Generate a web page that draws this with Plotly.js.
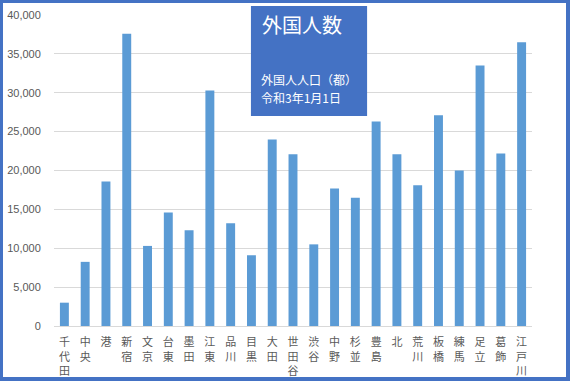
<!DOCTYPE html>
<html>
<head>
<meta charset="utf-8">
<script src="https://cdn.plot.ly/plotly-3.0.1.min.js"></script>
<style>
html,body{margin:0;padding:0;background:#fff;}
#wrap{position:relative;width:570px;height:381px;}
#chart{position:absolute;left:0;top:0;width:570px;height:381px;}
#frame{position:absolute;left:0;top:0;width:570px;height:381px;box-sizing:border-box;border-style:solid;border-color:#4472C4;border-width:3px 4px 4px 3px;pointer-events:none;}
</style>
</head>
<body>
<div id="wrap"><div id="chart"></div><div id="frame"></div></div>
<script>
const wards = ["千代田","中央","港","新宿","文京","台東","墨田","江東","品川","目黒","大田","世田谷","渋谷","中野","杉並","豊島","北","荒川","板橋","練馬","足立","葛飾","江戸川"];
const foreigners = [3000,8250,18600,37600,10300,14600,12300,30300,13200,9100,24000,22100,10500,17700,16500,26300,22100,18100,27100,20000,33500,22200,36500];
const tickText = wards.map(w => w.split("").join("<br>"));
const chartTitle = "外国人数";
const subTitle = ["外国人人口（都）","令和3年1月1日"];

const jp = '"Noto Sans CJK JP", "Noto Sans", sans-serif';

const data = [{
  type: "bar",
  x: wards,
  y: foreigners,
  marker: {color: "#5B9BD5"},
  hoverinfo: "x+y"
}];

const layout = {
  width: 570, height: 381,
  margin: {l: 54, r: 38, t: 15, b: 55},
  paper_bgcolor: "#ffffff",
  plot_bgcolor: "#ffffff",
  bargap: 0.57,
  showlegend: false,
  font: {family: jp, color: "#595959"},
  xaxis: {
    type: "category",
    tickmode: "array",
    tickvals: wards,
    ticktext: tickText,
    tickangle: 0,
    tickfont: {family: jp, size: 11, color: "#595959"},
    showgrid: false,
    showline: true,
    linecolor: "#D9D9D9",
    linewidth: 1,
    ticks: "outside", ticklen: 6, tickcolor: "rgba(0,0,0,0)"
  },
  yaxis: {
    range: [0, 40000],
    dtick: 5000,
    tickformat: ",",
    tickfont: {family: '"Liberation Sans", Arial, sans-serif', size: 11, color: "#595959"},
    showgrid: true,
    gridcolor: "#D9D9D9",
    gridwidth: 1,
    zeroline: false,
    showline: false,
    ticks: "outside", ticklen: 10, tickcolor: "rgba(0,0,0,0)"
  },
  shapes: [{
    type: "rect", xref: "paper", yref: "paper",
    x0: 0.412, x1: 0.655, y0: 0.675, y1: 1.029,
    fillcolor: "#4472C4", line: {width: 0}, layer: "above"
  }],
  annotations: [
    {xref: "paper", yref: "paper", x: 0.432, y: 0.968, xanchor: "left", yanchor: "middle",
     text: chartTitle, showarrow: false, font: {family: jp, size: 20, color: "#ffffff"}},
    {xref: "paper", yref: "paper", x: 0.429, y: 0.793, xanchor: "left", yanchor: "middle",
     text: subTitle[0], showarrow: false, font: {family: jp, size: 12, color: "#ffffff"}},
    {xref: "paper", yref: "paper", x: 0.429, y: 0.735, xanchor: "left", yanchor: "middle",
     text: subTitle[1], showarrow: false, font: {family: jp, size: 12, color: "#ffffff"}}
  ]
};

Plotly.newPlot("chart", data, layout, {displayModeBar: false, staticPlot: true});
</script>
</body>
</html>
